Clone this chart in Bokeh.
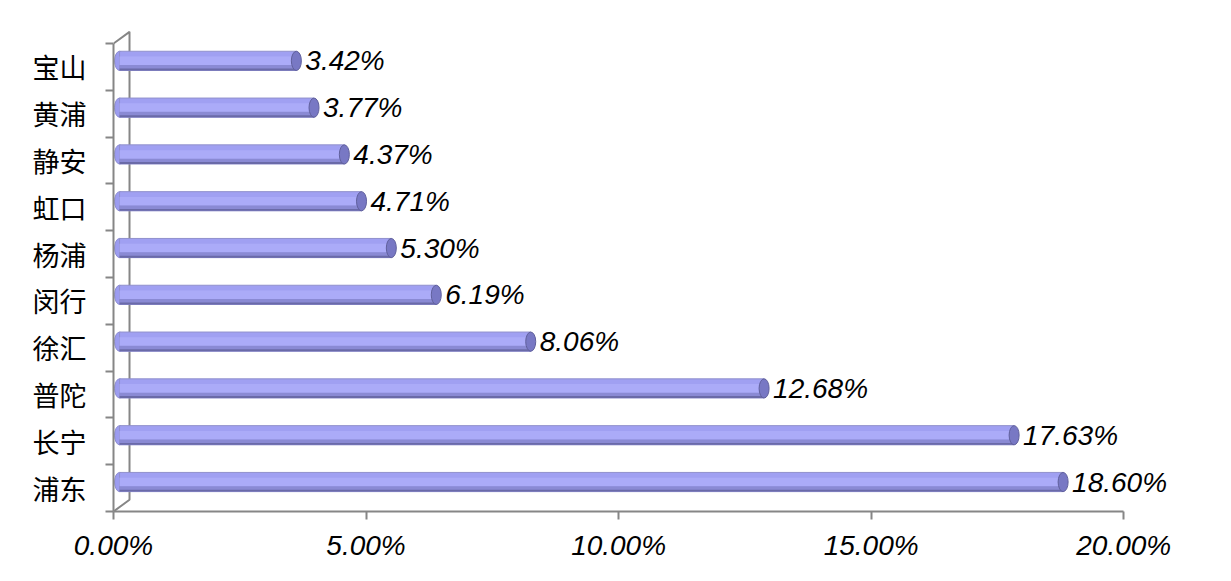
import numpy as np
from bokeh.plotting import figure
from bokeh.models import Range1d, LinearAxis, FixedTicker, ColumnDataSource
from bokeh.core.properties import value
from bokeh.embed import file_html
from bokeh.resources import INLINE

# ---- data (top to bottom as in the chart) ----
districts = ["宝山", "黄浦", "静安", "虹口", "杨浦", "闵行", "徐汇", "普陀", "长宁", "浦东"]
shares = [3.42, 3.77, 4.37, 4.71, 5.30, 6.19, 8.06, 12.68, 17.63, 18.60]
x_ticks = [0, 5, 10, 15, 20]
x_tick_labels = ["0.00%", "5.00%", "10.00%", "15.00%", "20.00%"]

n = len(districts)
ypos = (n - 1 - np.arange(n)) + 0.5          # category centres, first item on top
depth_x = 0.2                                  # 3-D depth shift of the bars (data units)
raise_y = 0.13
bar_h = 0.41

by = ypos + raise_y
src = ColumnDataSource(dict(
    y=by,
    y_shadow=by - bar_h * 0.36,
    y_edge=by - bar_h * 0.45,
    left=np.full(n, 0.12),
    right=np.array(shares) + depth_x,
    label=[f"{v:.2f}%" for v in shares],
))

p = figure(width=1215, height=565, x_range=Range1d(0, 21.5), y_range=Range1d(0, n + 0.3),
           x_axis_type=None, y_axis_type=None, output_backend="svg", toolbar_location=None,
           min_border_left=113, min_border_right=16, min_border_top=29, min_border_bottom=54,
           outline_line_color=None, background_fill_color="white")

AX = "#868686"

# 3-D back wall edges
wall_dx, wall_dy = 0.317, 0.25
p.line(x=[0, wall_dx, wall_dx, 0], y=[n, n + wall_dy, wall_dy, 0], line_color=AX, line_width=2)

# cylinder bars: left cap, body bands, right cap
p.ellipse(x="left", y="y", width=10, height=bar_h, width_units="screen", source=src,
          fill_color="#9c9cf0", line_color="#8c8cd0", line_width=1)
p.hbar(y="y", left="left", right="right", height=bar_h, source=src,
       fill_color="#a0a0f2", line_color="#9090cc", line_width=1)
p.hbar(y="y", left="left", right="right", height=bar_h * 0.45, source=src,
       fill_color="#ababf8", line_color=None)
p.hbar(y="y_shadow", left="left", right="right", height=bar_h * 0.28, source=src,
       fill_color="#8a8ad4", line_color=None)
p.hbar(y="y_edge", left="left", right="right", height=bar_h * 0.1, source=src,
       fill_color="#6a6aa8", line_color=None)
p.ellipse(x="right", y="y", width=10, height=bar_h, width_units="screen", source=src,
          fill_color="#7878c4", line_color="#60609c", line_width=1)

# value labels
p.text(x="right", y="y", text="label", source=src, x_offset=9, text_baseline="middle",
       text_align="left", text_font=value("Liberation Sans"), text_font_style="italic",
       text_font_size="28px", text_color="black")

# x axis
xaxis = LinearAxis(ticker=FixedTicker(ticks=x_ticks),
                   major_label_overrides={t: l for t, l in zip(x_ticks, x_tick_labels)},
                   bounds=(0, 20), axis_line_color=AX, axis_line_width=2,
                   major_tick_line_color=AX, major_tick_line_width=2,
                   major_tick_out=8, major_tick_in=0, minor_tick_line_color=None,
                   major_label_text_font="Liberation Sans", major_label_text_font_style="italic",
                   major_label_text_font_size="28px", major_label_text_color="black",
                   major_label_standoff=10)
p.add_layout(xaxis, "below")

# y axis (labels at category centres, tick marks at boundaries)
yaxis = LinearAxis(ticker=FixedTicker(ticks=list(ypos), minor_ticks=list(range(n + 1))),
                   major_label_overrides={float(y): d for y, d in zip(ypos, districts)},
                   bounds=(0, n), axis_line_color=AX, axis_line_width=2,
                   major_tick_line_color=None, major_tick_out=0, major_tick_in=0,
                   minor_tick_line_color=AX, minor_tick_line_width=2,
                   minor_tick_out=8, minor_tick_in=0,
                   major_label_text_font="Noto Sans CJK SC",
                   major_label_text_font_size="27px", major_label_text_color="black",
                   major_label_standoff=19)
p.add_layout(yaxis, "left")

open("out.html", "w").write(file_html(p, INLINE))
